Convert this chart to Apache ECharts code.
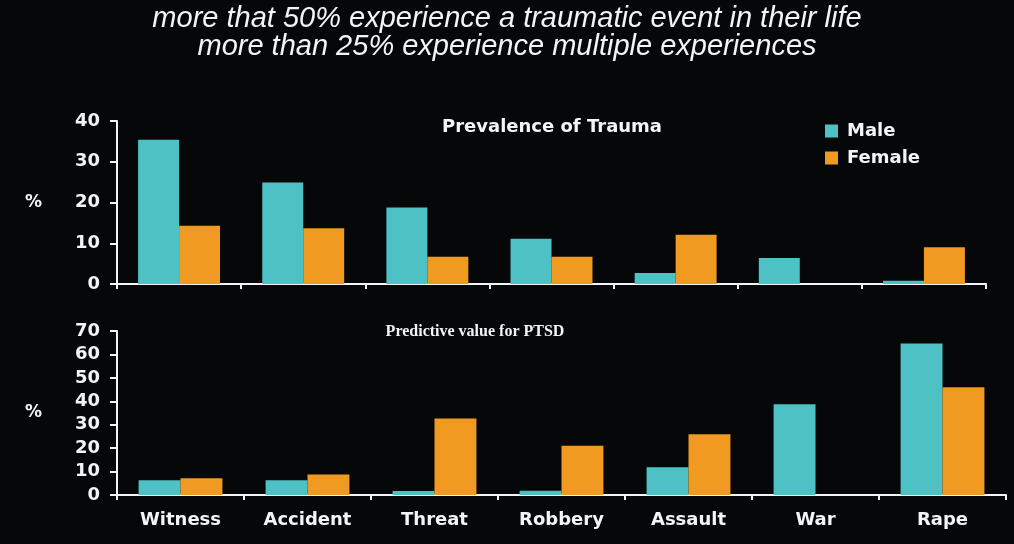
<!DOCTYPE html>
<html>
<head>
<meta charset="utf-8">
<script src="https://cdn.jsdelivr.net/npm/echarts@6/dist/echarts.min.js"></script>
<style>
html,body{margin:0;padding:0;background:#060709;}
#c{width:1014px;height:544px;}
</style>
</head>
<body>
<div id="c"></div>
<script>
const categories = ['Witness', 'Accident', 'Threat', 'Robbery', 'Assault', 'War', 'Rape'];
const prevalenceMale = [35.4, 24.9, 18.8, 11.1, 2.7, 6.4, 0.8];
const prevalenceFemale = [14.3, 13.7, 6.7, 6.7, 12.1, 0, 9.0];
const ptsdMale = [6.3, 6.3, 1.7, 1.8, 11.8, 38.7, 64.7];
const ptsdFemale = [7.1, 8.8, 32.7, 21.0, 25.9, 0, 46.0];
const topTicks = [0, 10, 20, 30, 40];
const bottomTicks = [0, 10, 20, 30, 40, 50, 60, 70];

const TEAL = '#4EC1C4';
const ORANGE = '#F09A22';
const WHITE = '#F2F4F8';
const FONT = '"Liberation Sans", Arial, sans-serif';
const BOLDFONT = '"DejaVu Sans", sans-serif';

const chart = echarts.init(document.getElementById('c'));

function yAxis(gridIndex, max, interval) {
  return {
    type: 'value', gridIndex, min: 0, max, interval,
    name: '%', nameLocation: 'middle', nameRotate: 0, nameGap: 75,
    nameTextStyle: { color: WHITE, fontSize: 17, fontWeight: 'bold', fontFamily: BOLDFONT },
    axisLine: { show: true, lineStyle: { color: WHITE, width: 2 } },
    axisTick: { show: true, length: 7, lineStyle: { color: WHITE, width: 2 } },
    splitLine: { show: false },
    axisLabel: { color: WHITE, fontSize: 18, fontWeight: 'bold', fontFamily: BOLDFONT, margin: 17 }
  };
}
function xAxis(gridIndex, showLabels) {
  return {
    type: 'category', gridIndex, data: categories,
    axisLine: { show: true, lineStyle: { color: WHITE, width: 2 } },
    axisTick: { show: true, length: 5, inside: false, lineStyle: { color: WHITE, width: 2 } },
    axisLabel: { show: showLabels, color: WHITE, fontSize: 18, fontWeight: 'bold', fontFamily: BOLDFONT, margin: 16 }
  };
}
function bar(name, data, color, xi) {
  return {
    type: 'bar', name, data, xAxisIndex: xi, yAxisIndex: xi,
    barGap: '0%', barCategoryGap: '34%',
    itemStyle: { color },
    emphasis: { disabled: true }
  };
}

chart.setOption({
  backgroundColor: '#060709',
  animation: false,
  title: [
    {
      text: 'more that 50% experience a traumatic event in their life\nmore than 25% experience multiple experiences',
      left: 'center', top: 0,
      textStyle: { color: WHITE, fontSize: 29, fontStyle: 'italic', fontWeight: 'normal', fontFamily: FONT, lineHeight: 28 }
    },
    {
      text: 'Prevalence of Trauma', left: 547, top: 113, textAlign: 'center',
      textStyle: { color: WHITE, fontSize: 18, fontWeight: 'bold', fontFamily: BOLDFONT }
    },
    {
      text: 'Predictive value for PTSD', left: 470, top: 319, textAlign: 'center',
      textStyle: { color: WHITE, fontSize: 16, fontWeight: 'bold', fontFamily: '"Liberation Serif", "Times New Roman", serif' }
    }
  ],
  legend: {
    data: ['Male', 'Female'], orient: 'vertical', left: 820, top: 117,
    itemWidth: 13, itemHeight: 13, itemGap: 9, icon: 'rect',
    textStyle: { color: WHITE, fontSize: 18, fontWeight: 'bold', fontFamily: BOLDFONT, padding: [0, 0, 0, 4] }
  },
  grid: [
    { left: 117, top: 121, width: 869, height: 163 },
    { left: 117, top: 331, width: 889, height: 164 }
  ],
  xAxis: [xAxis(0, false), xAxis(1, true)],
  yAxis: [yAxis(0, 40, 10), yAxis(1, 70, 10)],
  series: [
    bar('Male', prevalenceMale, TEAL, 0),
    bar('Female', prevalenceFemale, ORANGE, 0),
    bar('Male', ptsdMale, TEAL, 1),
    bar('Female', ptsdFemale, ORANGE, 1)
  ]
});
</script>
</body>
</html>
